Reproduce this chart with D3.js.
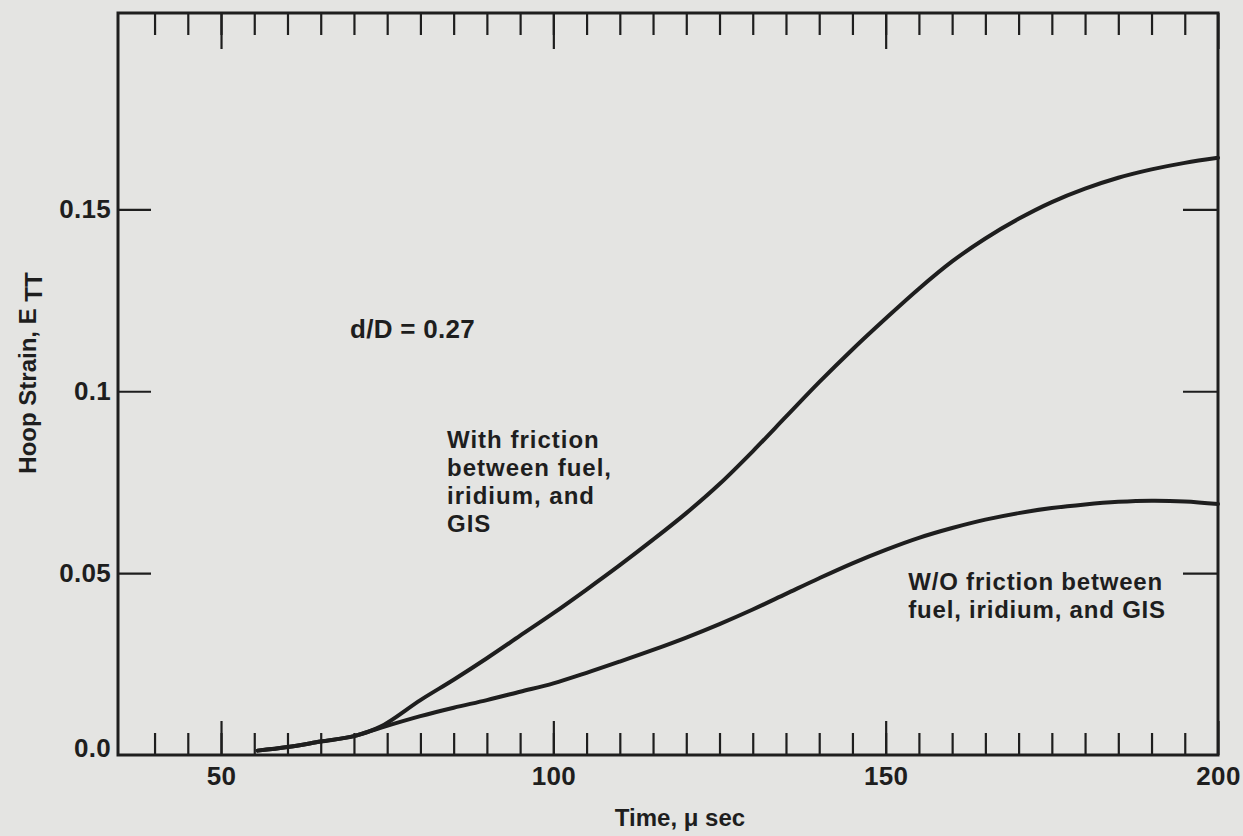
<!DOCTYPE html>
<html lang="en">
<head>
    <meta charset="UTF-8">
    <title>Hoop Strain vs Time</title>
    <script src="https://cdn.jsdelivr.net/npm/d3@7"></script>
    <style>
        body, html {
            margin: 0;
            padding: 0;
            height: 100%;
            overflow: hidden;
            background: #e4e4e2;
        }
        svg {
            display: block;
        }
        text {
            font-family: "Liberation Sans", Arial, sans-serif;
            font-weight: bold;
            fill: #1e1e1e;
        }
    </style>
</head>
<body>
    <svg id="mainsvg"></svg>
    <script>
        // time in micro seconds
        const timeValues = [55.5, 60, 65, 70, 74, 80, 85, 90, 95, 100, 105, 110, 115, 120, 125, 130,
            135, 140, 145, 150, 155, 160, 165, 170, 175, 180, 185, 190, 195, 200];
        // hoop strain with friction between fuel, iridium and GIS
        const withFriction = [0.0012, 0.0022, 0.0037, 0.0052, 0.0078, 0.0151, 0.0207, 0.0266, 0.0328, 0.0390,
            0.0455, 0.0522, 0.0592, 0.0665, 0.0745, 0.0835, 0.0930, 0.1025, 0.1115, 0.1200,
            0.1282, 0.1357, 0.1420, 0.1474, 0.1520, 0.1557, 0.1587, 0.1610, 0.1628, 0.1642];
        // hoop strain without friction
        const withoutFriction = [0.0012, 0.0022, 0.0037, 0.0052, 0.0075, 0.0107, 0.0130, 0.0151, 0.0174, 0.0197,
            0.0226, 0.0257, 0.0289, 0.0323, 0.0360, 0.0400, 0.0443, 0.0486, 0.0527, 0.0564,
            0.0597, 0.0624, 0.0647, 0.0665, 0.0679, 0.0689, 0.0696, 0.0699, 0.0697, 0.0690];

        const xMajorTicks = [50, 100, 150, 200];
        const xMinorTicks = d3.range(40, 200, 5);
        const yTicks = [0, 0.05, 0.1, 0.15];
        const yTickLabels = ['0.0', '0.05', '0.1', '0.15'];

        const width = 1243;
        const height = 836;
        const svg = d3.select('svg').attr('width', width).attr('height', height);

        const margin = { top: 13, right: 25, bottom: 81, left: 118 };

        const xScale = d3.scaleLinear().domain([34.5, 200]).range([margin.left, width - margin.right]);
        const yScale = d3.scaleLinear().domain([0, 0.204]).range([height - margin.bottom, margin.top]);

        const x0 = xScale.range()[0], x1 = xScale.range()[1];
        const y0 = yScale.range()[0], y1 = yScale.range()[1];

        const ink = '#1e1e1e';

        // bottom axis: minor ticks then major ticks with labels
        const bottomMinor = svg.append('g').attr('transform', `translate(0, ${y0})`)
            .call(d3.axisBottom(xScale).tickValues(xMinorTicks).tickSize(-22).tickFormat(''));
        const bottomMajor = svg.append('g').attr('transform', `translate(0, ${y0})`)
            .call(d3.axisBottom(xScale).tickValues(xMajorTicks).tickSize(-34).tickPadding(12));

        // top axis: ticks only
        const topMinor = svg.append('g').attr('transform', `translate(0, ${y1})`)
            .call(d3.axisTop(xScale).tickValues(xMinorTicks).tickSize(-22).tickFormat(''));
        const topMajor = svg.append('g').attr('transform', `translate(0, ${y1})`)
            .call(d3.axisTop(xScale).tickValues(xMajorTicks).tickSize(-36).tickFormat(''));

        // left and right axis
        const leftAxis = svg.append('g').attr('transform', `translate(${x0}, 0)`)
            .call(d3.axisLeft(yScale).tickValues(yTicks).tickSize(-33).tickPadding(7)
                .tickFormat((d, i) => yTickLabels[i]));
        const rightAxis = svg.append('g').attr('transform', `translate(${x1}, 0)`)
            .call(d3.axisRight(yScale).tickValues(yTicks.slice(1)).tickSize(-35).tickFormat(''));

        [bottomMinor, bottomMajor, topMinor, topMajor, leftAxis, rightAxis].forEach(g => {
            g.select('.domain').remove();
            g.selectAll('.tick line').attr('stroke', ink).attr('stroke-width', 2.2);
            g.selectAll('.tick text').attr('font-size', '26px').attr('fill', ink)
                .attr('letter-spacing', '0.3px')
                .attr('font-family', '"Liberation Sans", Arial, sans-serif');
        });
        // no inner tick on the baseline
        leftAxis.selectAll('.tick').filter(d => d === 0).select('line').remove();
        leftAxis.selectAll('.tick').filter(d => d === 0).select('text').attr('dy', '0.05em');

        // frame
        svg.append('rect')
            .attr('x', x0).attr('y', y1)
            .attr('width', x1 - x0).attr('height', y0 - y1)
            .attr('fill', 'none').attr('stroke', ink).attr('stroke-width', 3);

        // curves
        const line = d3.line()
            .x(d => xScale(d[0]))
            .y(d => yScale(d[1]))
            .curve(d3.curveCatmullRom.alpha(0.5));

        const series = [withFriction, withoutFriction];
        svg.selectAll('.curve').data(series).enter().append('path')
            .attr('class', 'curve')
            .attr('d', s => line(timeValues.map((t, i) => [t, s[i]])))
            .attr('fill', 'none')
            .attr('stroke', ink)
            .attr('stroke-width', 4)
            .attr('stroke-linecap', 'round');

        // annotations
        svg.append('text')
            .attr('x', xScale(69.4)).attr('y', yScale(0.1146))
            .attr('font-size', '26px')
            .attr('letter-spacing', '0.3px')
            .text('d/D = 0.27');

        const withLabel = svg.append('text')
            .attr('x', xScale(84.0)).attr('y', yScale(0.0843))
            .attr('font-size', '24px')
            .attr('letter-spacing', '1px');
        ['With friction', 'between fuel,', 'iridium, and', 'GIS'].forEach((t, i) => {
            withLabel.append('tspan').attr('x', xScale(84.0)).attr('dy', i === 0 ? 0 : 28).text(t);
        });

        const woLabel = svg.append('text')
            .attr('x', xScale(153.4)).attr('y', yScale(0.0453))
            .attr('font-size', '24px')
            .attr('letter-spacing', '0.8px');
        ['W/O friction between', 'fuel, iridium, and GIS'].forEach((t, i) => {
            woLabel.append('tspan').attr('x', xScale(153.4)).attr('dy', i === 0 ? 0 : 28).text(t);
        });

        // axis titles
        svg.append('text')
            .attr('x', (x0 + x1) / 2 + 12).attr('y', 826)
            .attr('text-anchor', 'middle')
            .attr('font-size', '24px')
            .text('Time, \u03bc sec');

        const yTitle = svg.append('text')
            .attr('transform', `translate(36, ${(y0 + y1) / 2 - 11}) rotate(-90)`)
            .attr('text-anchor', 'middle')
            .attr('font-size', '24px');
        yTitle.append('tspan').text('Hoop Strain, E ');
        yTitle.append('tspan').attr('dy', 6).text('TT');
    </script>
</body>
</html>
